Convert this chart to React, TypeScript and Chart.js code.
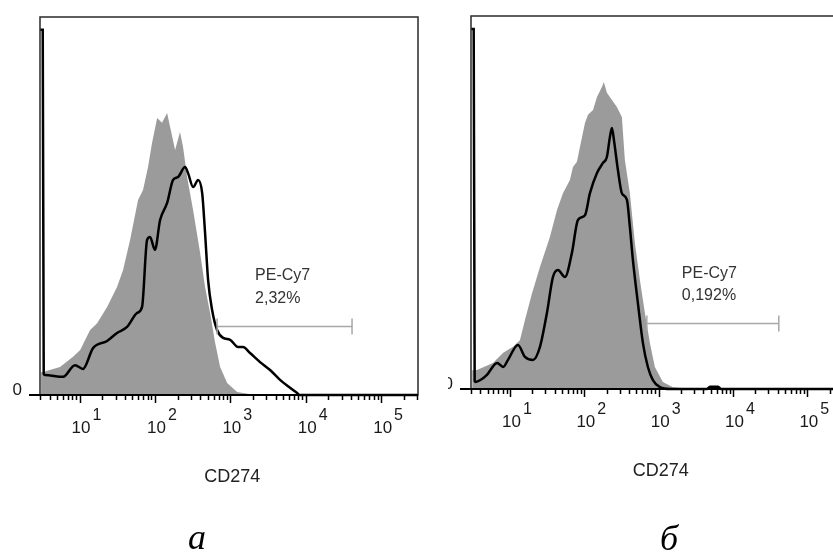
import React, { useEffect, useRef } from 'react';
import { Chart, registerables } from 'chart.js';

Chart.register(...registerables);

// ---------- Panel a (left) ----------
const aGrayX = [3.09, 3.28, 5.51, 8.2, 10.2, 13.8, 17.1, 23.2, 31.4, 37.8, 46.8, 59.7, 69.5, 81.0, 91.6, 107, 124, 145, 159, 185, 215, 236, 267, 321, 397, 462, 539, 628, 732, 907, 1230, 2130, 308000];
const aGrayY = [6.0, 6.1, 7.4, 10.1, 11.9, 17.2, 19.0, 23.3, 28.6, 33.1, 41.0, 51.6, 54.2, 60.3, 66.7, 73.3, 72.0, 74.6, 70.9, 64.8, 69.6, 65.6, 57.7, 48.9, 37.6, 28.6, 21.7, 13.8, 7.4, 3.2, 0.8, 0, 0];
const aLineX = [3.0, 3.25, 3.35, 3.48, 6.04, 8.71, 11.1, 15.1, 23.2, 31.4, 42.7, 57.9, 67.5, 78.6, 86.1, 100, 117, 145, 174, 203, 251, 275, 321, 374, 423, 462, 507, 573, 667, 801, 993, 1265, 1472, 1824, 2477, 3365, 4560, 6190, 7680, 8280, 10600, 308000];
const aLineY = [96.6, 96.6, 5.6, 5.3, 4.8, 7.9, 6.9, 12.4, 14.3, 16.4, 18.0, 21.7, 23.3, 41.0, 41.8, 38.4, 46.3, 50.8, 56.9, 57.7, 60.3, 58.7, 55.0, 56.9, 53.4, 42.9, 30.4, 22.5, 17.2, 15.1, 14.6, 12.7, 12.7, 11.1, 8.7, 6.6, 4.0, 1.9, 0.5, 0, 0, 0];
const aRange = [2.99, 308000];
const aGate = [667, 41100];
const aGateLevel = 18.3;
const aGateText = ['PE-Cy7', '2,32%'];
const aGateTextPos = [2130, 30.4, 24.3];

// ---------- Panel б (right) ----------
const bGrayX = [3.1, 3.6, 5.9, 8.1, 11.0, 13.6, 15.9, 19.8, 25.3, 34.5, 42.9, 51.6, 64.0, 70.3, 79.6, 87.3, 102, 112, 131, 148, 173, 183, 201, 235, 274, 320, 351, 410, 479, 559, 653, 762, 889, 1138, 1552, 2880, 363000];
const bGrayY = [5.0, 5.1, 7.0, 9.7, 11.3, 13.1, 18.5, 25.7, 32.7, 40.8, 48.0, 52.5, 56.0, 59.5, 60.9, 64.9, 71.3, 73.5, 74.8, 78.3, 81.0, 82.3, 79.4, 77.5, 75.6, 72.9, 61.4, 52.5, 39.1, 29.2, 20.4, 12.3, 5.9, 1.9, 0.5, 0, 0];
const bLineX = [3.0, 3.25, 3.35, 3.45, 4.0, 4.9, 6.7, 8.1, 9.4, 12.8, 15.9, 20.4, 25.3, 31.4, 37.8, 44.2, 54.8, 68.1, 82.0, 102, 119, 148, 178, 201, 221, 235, 250, 283, 320, 374, 410, 450, 525, 614, 716, 836, 1038, 1416, 4446, 4900, 6300, 6900, 363000];
const bLineY = [96.5, 96.5, 2.2, 1.9, 2.4, 3.8, 7.0, 5.9, 7.8, 11.8, 8.6, 7.8, 11.3, 20.4, 30.0, 31.9, 30.0, 36.5, 45.3, 46.6, 52.5, 57.9, 60.6, 62.2, 67.6, 70.0, 66.8, 58.7, 52.5, 50.7, 43.4, 34.6, 23.1, 12.3, 5.9, 2.4, 0.5, 0, 0, 0.6, 0.6, 0, 0];
const bRange = [2.99, 363000];
const bGate = [693, 41300];
const bGateLevel = 17.7;
const bGateText = ['PE-Cy7', '0,192%'];
const bGateTextPos = [2050, 29.8, 23.9];

// ---------- shared axis text ----------
const tickDecades = [0, 1, 2, 3, 4, 5];
const labelDecades = [1, 2, 3, 4, 5];
const axisTitle = 'CD274';
const zeroLabel = '0';

const SANS = '"Liberation Sans", Arial, Helvetica, sans-serif';
const SERIF = '"Liberation Serif", "Times New Roman", serif';

type PanelDef = {
  grayX: number[]; grayY: number[]; lineX: number[]; lineY: number[];
  range: number[]; gate: number[]; gateLevel: number; gateText: string[]; gateTextPos: number[];
  letter: string;
  left: number; width: number;
  pad: { left: number; right: number; top: number; bottom: number };
  letterX: number; letterY: number;
};

const panels: PanelDef[] = [
  {
    grayX: aGrayX, grayY: aGrayY, lineX: aLineX, lineY: aLineY,
    range: aRange, gate: aGate, gateLevel: aGateLevel, gateText: aGateText, gateTextPos: aGateTextPos,
    letter: 'а',
    left: 0, width: 440,
    pad: { left: 40, right: 22, top: 17, bottom: 157 },
    letterX: 197, letterY: 549,
  },
  {
    grayX: bGrayX, grayY: bGrayY, lineX: bLineX, lineY: bLineY,
    range: bRange, gate: bGate, gateLevel: bGateLevel, gateText: bGateText, gateTextPos: bGateTextPos,
    letter: 'б',
    left: 448, width: 412,
    pad: { left: 23, right: 11, top: 16, bottom: 163 },
    letterX: 221, letterY: 550,
  },
];

function framePlugin(p: PanelDef) {
  return {
    id: 'flowFrame',
    afterDraw(chart: any) {
      const { ctx, chartArea: a, scales } = chart;
      const xs = scales.x;
      const ys = scales.y;
      ctx.save();
      // box
      ctx.strokeStyle = '#2a2a2a';
      ctx.lineWidth = 1.5;
      ctx.strokeRect(a.left, a.top, a.right - a.left, a.bottom - a.top);
      // x axis line
      ctx.strokeStyle = '#000';
      ctx.lineWidth = 2;
      ctx.beginPath();
      ctx.moveTo(a.left - 11, a.bottom);
      ctx.lineTo(a.right, a.bottom);
      ctx.stroke();
      // ticks
      ctx.lineWidth = 1.5;
      for (const d of tickDecades) {
        for (let k = 1; k <= 9; k++) {
          const v = k * Math.pow(10, d);
          if (v < xs.min || v > xs.max) continue;
          const px = Math.round(xs.getPixelForValue(v)) + 0.5;
          const len = k === 1 ? 8 : 5;
          ctx.beginPath();
          ctx.moveTo(px, a.bottom);
          ctx.lineTo(px, a.bottom + len);
          ctx.stroke();
        }
      }
      // tick labels 10^n
      ctx.fillStyle = '#1a1a1a';
      ctx.textBaseline = 'alphabetic';
      for (const d of labelDecades) {
        const px = xs.getPixelForValue(Math.pow(10, d));
        ctx.font = '17px ' + SANS;
        ctx.textAlign = 'center';
        ctx.fillText('10', px + 1.5, a.bottom + 38);
        const w = ctx.measureText('10').width;
        ctx.font = '16px ' + SANS;
        ctx.textAlign = 'left';
        ctx.fillText(String(d), px + 1.5 + w / 2 + 2, a.bottom + 25);
      }
      // zero label
      ctx.font = '17px ' + SANS;
      ctx.textAlign = 'right';
      ctx.fillText(zeroLabel, a.left - 18, a.bottom);
      // axis title
      ctx.font = '18px ' + SANS;
      ctx.textAlign = 'center';
      ctx.fillStyle = '#222';
      ctx.fillText(axisTitle, xs.getPixelForValue(1000) + 2, a.bottom + 87);
      // gate marker
      const gy = Math.round(ys.getPixelForValue(p.gateLevel)) + 0.5;
      const g0 = xs.getPixelForValue(p.gate[0]);
      const g1 = xs.getPixelForValue(p.gate[1]);
      ctx.strokeStyle = '#a8a8a8';
      ctx.lineWidth = 1.5;
      ctx.beginPath();
      ctx.moveTo(g0, gy); ctx.lineTo(g1, gy);
      ctx.moveTo(g0, gy - 8); ctx.lineTo(g0, gy + 8);
      ctx.moveTo(g1, gy - 8); ctx.lineTo(g1, gy + 8);
      ctx.stroke();
      // gate text
      ctx.fillStyle = '#333';
      ctx.font = '16px ' + SANS;
      ctx.textAlign = 'left';
      const tx = xs.getPixelForValue(p.gateTextPos[0]);
      ctx.fillText(p.gateText[0], tx, ys.getPixelForValue(p.gateTextPos[1]));
      ctx.fillText(p.gateText[1], tx, ys.getPixelForValue(p.gateTextPos[2]));
      // panel letter
      ctx.fillStyle = '#000';
      ctx.font = 'italic 36px ' + SERIF;
      ctx.textAlign = 'center';
      ctx.fillText(p.letter, p.letterX, p.letterY);
      ctx.restore();
    },
  };
}

function Panel({ p }: { p: PanelDef }) {
  const ref = useRef<HTMLCanvasElement | null>(null);
  useEffect(() => {
    if (!ref.current) return;
    const gray = p.grayX.map((x, i) => ({ x, y: p.grayY[i] }));
    const line = p.lineX.map((x, i) => ({ x, y: p.lineY[i] }));
    const chart = new Chart(ref.current, {
      type: 'line',
      data: {
        datasets: [
          {
            data: gray,
            fill: 'origin',
            backgroundColor: 'rgb(155,155,155)',
            borderColor: 'rgba(0,0,0,0)',
            borderWidth: 0,
            pointRadius: 0,
            tension: 0,
            order: 2,
          },
          {
            data: line,
            fill: false,
            borderColor: '#000',
            borderWidth: 2.5,
            pointRadius: 0,
            cubicInterpolationMode: 'monotone',
            clip: 4,
            order: 1,
          },
        ],
      } as any,
      options: {
        animation: false,
        responsive: false,
        events: [],
        layout: { padding: p.pad },
        plugins: { legend: { display: false }, tooltip: { enabled: false } },
        scales: {
          x: { type: 'logarithmic', min: p.range[0], max: p.range[1], display: false },
          y: { type: 'linear', min: 0, max: 100, display: false },
        },
      } as any,
      plugins: [framePlugin(p)],
    });
    return () => chart.destroy();
  }, [p]);
  return (
    <canvas
      ref={ref}
      width={p.width}
      height={552}
      style={{ position: 'absolute', left: p.left, top: 0, width: p.width, height: 552, display: 'block' }}
    />
  );
}

export default function App() {
  return (
    <div
      style={{
        position: 'fixed', left: 0, top: 0, width: 833, height: 552,
        overflow: 'hidden', background: '#fff',
      }}
    >
      {panels.map((p, i) => (
        <Panel key={i} p={p} />
      ))}
    </div>
  );
}
